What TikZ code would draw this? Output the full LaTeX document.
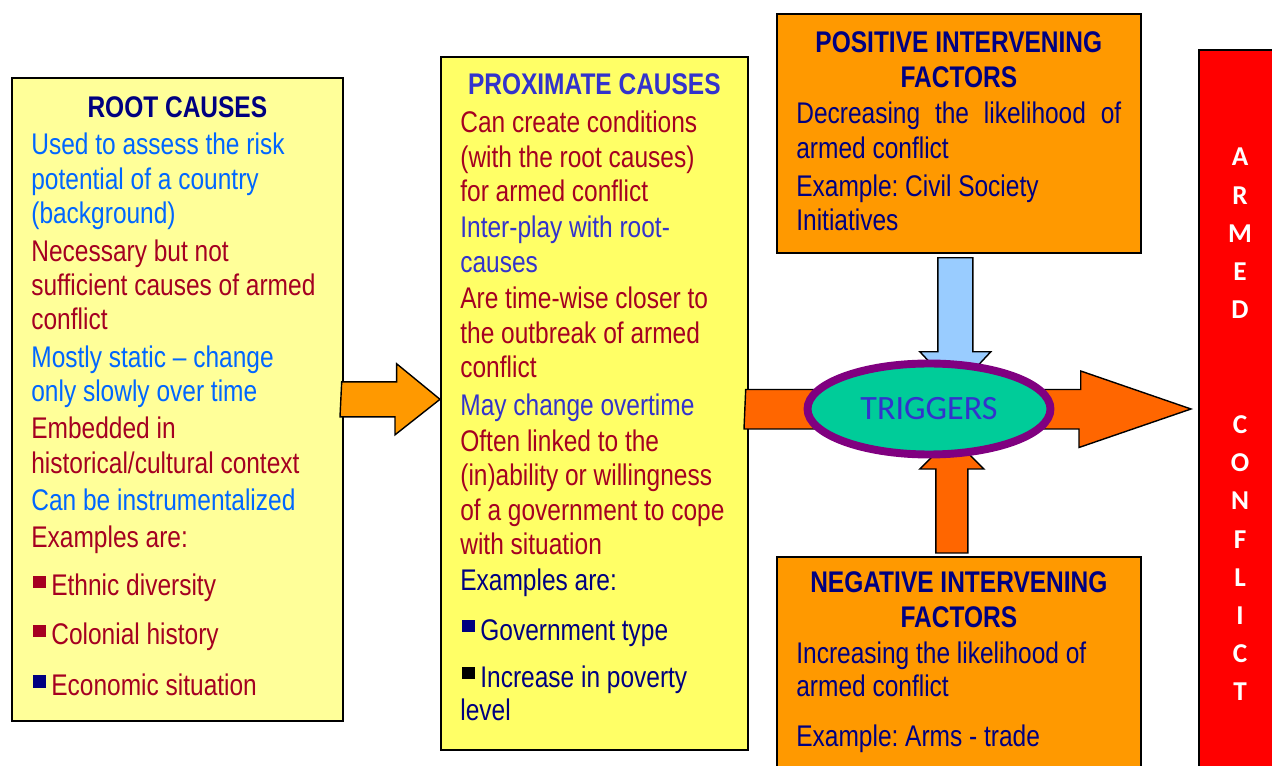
\documentclass[tikz,border=0pt]{standalone}
\usepackage{fontspec}
\setmainfont{Liberation Sans}[FakeStretch=0.82]
\newfontfamily\trigfont{Carlito}
\usetikzlibrary{positioning, calc, shapes.geometric}

\definecolor{paleyellow}{HTML}{FFFF99}
\definecolor{brightyellow}{HTML}{FFFF66}
\definecolor{boxorange}{HTML}{FF9900}
\definecolor{deeporange}{HTML}{FF6600}
\definecolor{skyblue}{HTML}{99CCFF}
\definecolor{boxred}{HTML}{FF0000}
\definecolor{trigteal}{HTML}{00CC99}
\definecolor{trigpurple}{HTML}{800080}
\definecolor{navytext}{HTML}{000080}
\definecolor{bluetext}{HTML}{0066FF}
\definecolor{violettext}{HTML}{3333CC}
\definecolor{redtext}{HTML}{A50021}

\newlength{\px}
\setlength{\px}{0.02cm}
\newcommand{\sqbullet}[1]{\hspace*{2\px}\textcolor{#1}{\rule[8\px]{13\px}{12\px}}\hspace{5\px}}
\newcommand{\boxlines}[1]{\parbox[t]{8cm}{\raggedright\frenchspacing\fontsize{17}{19.56}\selectfont\leavevmode #1}}
\newcommand{\boxtitle}[1]{\parbox[t]{8cm}{\centering\fontsize{17}{19.56}\selectfont\bfseries #1}}

\tikzstyle{causebox} = [rectangle, draw=black, line width=1pt, anchor=north west, inner sep=0pt]
\tikzstyle{heading} = [anchor=base, inner sep=0pt]
\tikzstyle{bodytext} = [anchor=base west, inner sep=0pt]
\tikzstyle{blockarrow} = [draw=black, line width=0.8pt, line join=miter]

\begin{document}
\begin{tikzpicture}[x=0.02cm, y=-0.02cm]
		\useasboundingbox (0,0) rectangle (1272,766);
		\clip (0,0) rectangle (1272,766);
		\fill[white] (0,0) rectangle (1272,766);

		\node (root) [causebox, fill=paleyellow, minimum width=6.62cm, minimum height=12.86cm] at (11,77) {};
		\node (prox) [causebox, fill=brightyellow, minimum width=6.14cm, minimum height=13.86cm] at (440,56) {};
		\node (pos) [causebox, fill=boxorange, minimum width=7.28cm, minimum height=4.78cm] at (776,13) {};
		\node (neg) [causebox, fill=boxorange, minimum width=7.28cm, minimum height=4.6cm] at (776,556) {};
		\node (red) [causebox, fill=boxred, minimum width=2cm, minimum height=15cm] at (1198,49) {};

		\node (roottitle) [heading, text=navytext] at ([shift={(0,41)}]root.north) {\boxtitle{ROOT CAUSES}};
		\node (rootlist) [bodytext] at ([shift={(20,78)}]root.north west) {\boxlines{%
			\color{bluetext}Used to assess the risk\\
			potential of a country\\
			(background)\\[1.7pt]
			\color{redtext}Necessary but not\\
			sufficient causes of armed\\
			conflict\\[1.7pt]
			\color{bluetext}Mostly static -- change\\
			only slowly over time\\[1.7pt]
			\color{redtext}Embedded in\\
			historical/cultural context\\[1.7pt]
			\color{bluetext}Can be instrumentalized\\[1.7pt]
			\color{redtext}Examples are:\\[7.7pt]
			\sqbullet{redtext}Ethnic diversity\\[8.2pt]
			\sqbullet{redtext}Colonial history\\[9.4pt]
			\sqbullet{navytext}Economic situation}};

		\node (proxtitle) [heading, text=violettext] at ([shift={(0,39)}]prox.north) {\boxtitle{PROXIMATE CAUSES}};
		\node (proxlist) [bodytext] at ([shift={(20,77)}]prox.north west) {\boxlines{%
			\color{redtext}Can create conditions\\
			(with the root causes)\\
			for armed conflict\\[0.9pt]
			\color{violettext}Inter-play with root-\\
			causes\\[1.4pt]
			\color{redtext}Are time-wise closer to\\
			the outbreak of armed\\
			conflict\\[2pt]
			\color{violettext}May change overtime\\[0.9pt]
			\color{redtext}Often linked to the\\
			(in)ability or willingness\\
			of a government to cope\\
			with situation\\[0.9pt]
			\color{navytext}Examples are:\\[8.8pt]
			\sqbullet{navytext}Government type\\[7.1pt]
			\sqbullet{black}Increase in poverty\\[-0.8pt]
			level}};

		\node (postitle) [heading, text=navytext] at ([shift={(0,40)}]pos.north) {\boxtitle{POSITIVE INTERVENING\\FACTORS}};
		\node (poslist) [bodytext] at ([shift={(20,111)}]pos.north west) {\boxlines{%
			\color{navytext}\makebox[6.5cm][s]{Decreasing\hfill the\hfill likelihood\hfill of}\\
			armed conflict\\[2pt]
			Example: Civil Society\\
			Initiatives}};

		\node (negtitle) [heading, text=navytext] at ([shift={(0,37)}]neg.north) {\boxtitle{NEGATIVE INTERVENING\\FACTORS}};
		\node (neglist) [bodytext] at ([shift={(20,108)}]neg.north west) {\boxlines{%
			\color{navytext}Increasing the likelihood of\\[-0.8pt]
			armed conflict\\[8.8pt]
			Example: Arms - trade}};

		\node (redword) [heading, text=white] at ([shift={(42,117)}]red.north west) {\parbox[t]{2cm}{\centering\trigfont\bfseries\fontsize{15.5}{21.75}\selectfont A\\R\\M\\E\\D\\[43.5pt]C\\O\\N\\F\\L\\I\\C\\T}};

		\coordinate (trigc) at (929,409);
		\draw [blockarrow, fill=boxorange] ([shift={(-2,-17.5)}]root.east) -- ++(55,0) -- ++(0,-18) -- (prox.west |- root.east) -- ++(-45,35.5) -- ++(0,-18) -- ++(-55,0) -- cycle;
		\draw [blockarrow, fill=deeporange] ($(prox.east |- trigc)+(-3,-19.5)$) -- ++(335,0) -- ++(0,-18.5) -- ($(red.west |- trigc)+(-7,0)$) -- ++(-112,38.5) -- ++(0,-18.5) -- ++(-335,0) -- cycle;
		\draw [blockarrow, fill=skyblue] ($(pos.south)+(-21,4)$) -- ++(35,0) -- ++(0,94) -- ++(18,0) -- ++(-35.5,38) -- ++(-35.5,-38) -- ++(18,0) -- cycle;
		\draw [blockarrow, fill=deeporange] ($(neg.north)+(-23,-3)$) -- ++(32,0) -- ++(0,-84) -- ++(16,0) -- ++(-32,-32) -- ++(-32,32) -- ++(16,0) -- cycle;

		\node (trig) [ellipse, draw=trigpurple, line width=4.5pt, fill=trigteal, minimum width=4.86cm, minimum height=1.82cm, inner sep=0pt, text=violettext, font=\trigfont\fontsize{19.4}{22}\selectfont] at (trigc) {TRIGGERS};
		\end{tikzpicture}
\end{document}
